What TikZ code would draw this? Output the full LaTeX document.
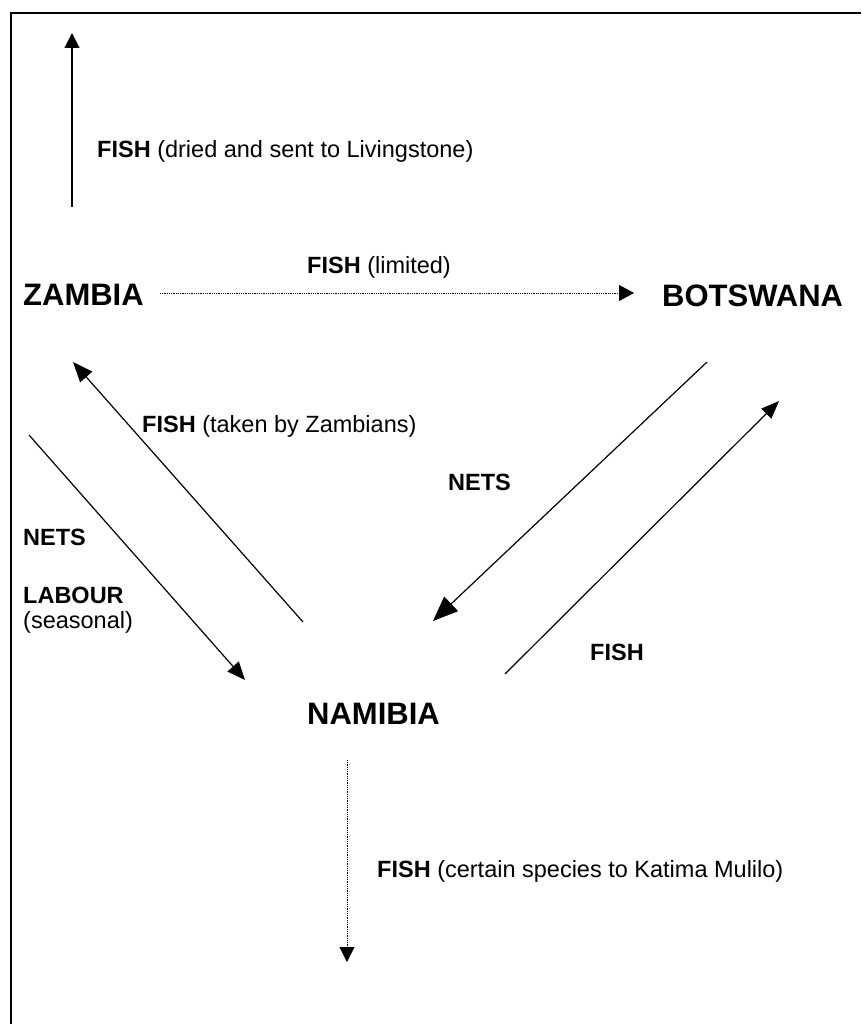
\documentclass[tikz,border=0pt]{standalone}
\usepackage{fontspec}
\setmainfont{Liberation Sans}
\usetikzlibrary{arrows.meta}
\begin{document}
\begin{tikzpicture}[x=1pt,y=-1pt,
  country/.style={font=\fontsize{31}{36}\selectfont\bfseries, anchor=base west, inner sep=0pt},
  lbl/.style={font=\fontsize{23.5}{27}\selectfont, anchor=base west, inner sep=0pt},
  flow/.style={line width=1.2pt},
  dotflow/.style={line width=0.9pt, dash pattern=on 0.9pt off 0.9pt},
  frame/.style={line width=2pt}
]
\useasboundingbox (0,0) rectangle (861,1024);
\draw[frame] (11,1024) -- (11,13) -- (861,13);

% countries
\node[country] (zambia) at (23,305) {ZAMBIA};
\node[country] (botswana) at (662,306) {BOTSWANA};
\node[country] (namibia) at (307,724) {NAMIBIA};

% labels
\node[lbl] (lliv) at (97,158) {\textbf{FISH} (dried and sent to Livingstone)};
\node[lbl] (llim) at (307,273) {\textbf{FISH} (limited)};
\node[lbl] (ltak) at (142,432) {\textbf{FISH} (taken by Zambians)};
\node[lbl] (lnetsl) at (23,545) {\textbf{NETS}};
\node[lbl] (llab) at (23,603) {\textbf{LABOUR}};
\node[lbl] (lseas) at (23,628) {(seasonal)};
\node[lbl] (lnetsm) at (448,490) {\textbf{NETS}};
\node[lbl] (lfishr) at (590,660) {\textbf{FISH}};
\node[lbl] (lkat) at (377,877) {\textbf{FISH} (certain species to Katima Mulilo)};

% connector end points
\coordinate (up0) at (72,207);
\coordinate (up1) at (72,33);
\coordinate (zb0) at (160,293);
\coordinate (zb1) at (634,293);
\coordinate (nz0) at (303,622);
\coordinate (nz1) at (73,362);
\coordinate (zn0) at (29,435);
\coordinate (zn1) at (245,680);
\coordinate (bn0) at (707,362);
\coordinate (bn1) at (433,621);
\coordinate (nb0) at (505,674);
\coordinate (nb1) at (779,401);
\coordinate (dn0) at (347,760);
\coordinate (dn1) at (347,962);

\draw[flow, -{Triangle[length=15pt,width=15pt]}] (up0) -- (up1);
\draw[dotflow, -{Triangle[length=15pt,width=16pt]}] (zb0) -- (zb1);
\draw[flow, -{Triangle[length=20pt,width=16pt]}] (nz0) -- (nz1);
\draw[flow, -{Triangle[length=18pt,width=15pt]}] (zn0) -- (zn1);
\draw[flow, -{Triangle[length=25pt,width=20pt]}] (bn0) -- (bn1);
\draw[flow, -{Triangle[length=18pt,width=14pt]}] (nb0) -- (nb1);
\draw[dotflow, -{Triangle[length=15pt,width=15pt]}] (dn0) -- (dn1);
\end{tikzpicture}
\end{document}
